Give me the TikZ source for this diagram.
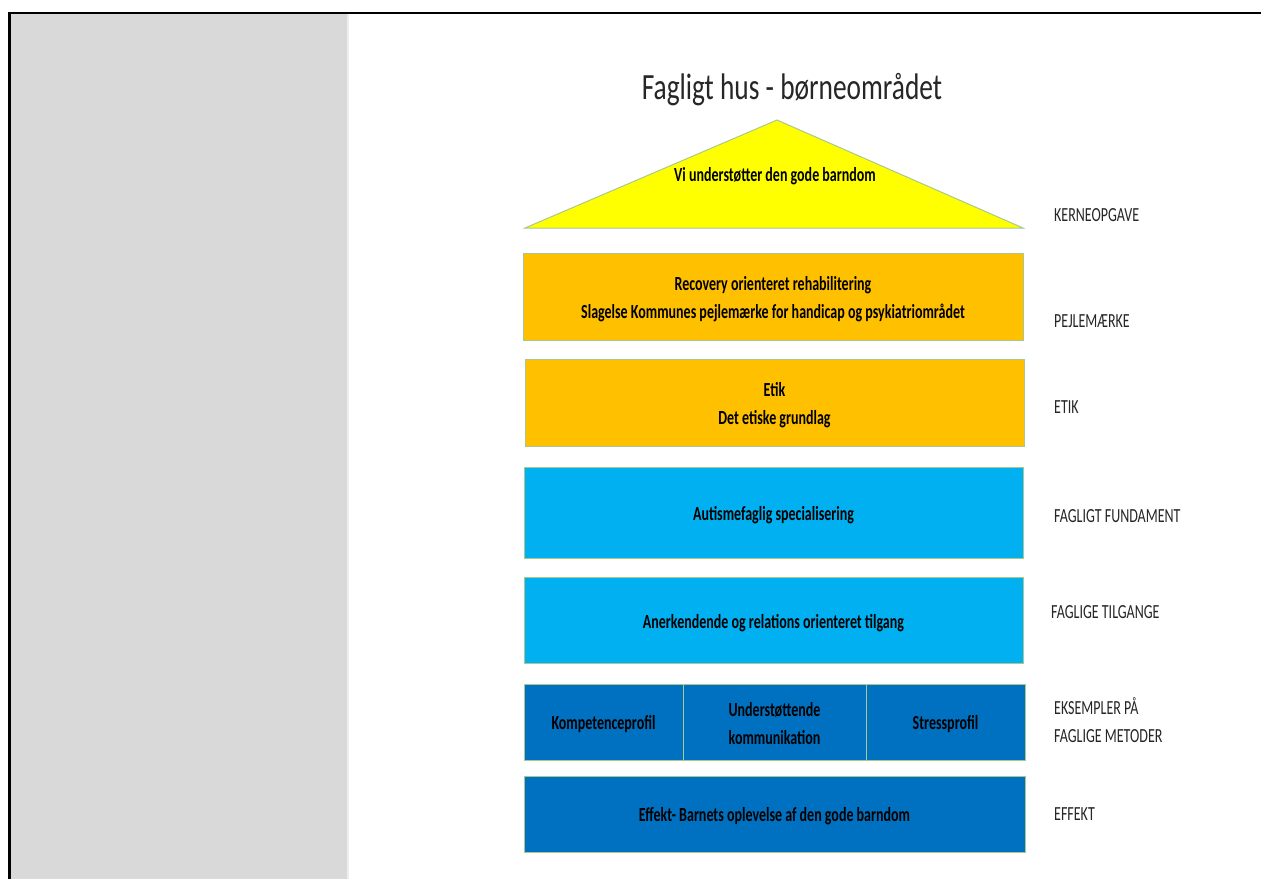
\documentclass[tikz,border=0pt]{standalone}
\usepackage{fontspec}
\newfontfamily\cond[FakeStretch=0.7]{Carlito}
\newfontfamily\condt[FakeStretch=0.74]{Carlito}
\definecolor{panelgrey}{HTML}{D9D9D9}
\definecolor{roofyellow}{HTML}{FFFF00}
\definecolor{orangebox}{HTML}{FFC000}
\definecolor{lightbluebox}{HTML}{00B0F0}
\definecolor{bluebox}{HTML}{0070C0}
\definecolor{edgegreen}{HTML}{A8C890}
\definecolor{labelgrey}{HTML}{262626}
\tikzset{
  layer/.style={draw=edgegreen, line width=1pt, rectangle, inner sep=0pt},
  layertext/.style={align=center, inner sep=0pt,
    font=\cond\bfseries\fontsize{20}{28}\selectfont, text=black},
  sidelabel/.style={anchor=west, align=left, inner sep=0pt, text=labelgrey,
    font=\cond\fontsize{20}{28}\selectfont},
}
\begin{document}
\begin{tikzpicture}[x=1pt,y=-1pt]
\useasboundingbox (0,0) rectangle (1261,879);
\fill[white] (0,0) rectangle (1261,879);
% left grey panel and frame
\fill[panelgrey] (10,14) rectangle (347,879);
\fill[black!7] (347,14) rectangle (349,879);
\draw[line width=2pt] (8,13) -- (1261,13);
\draw[line width=3pt] (9.5,12) -- (9.5,879);
% title
\node[font=\condt\fontsize{37}{42}\selectfont, text=labelgrey] (title) at (792,90) {Fagligt hus - børneområdet};
% roof
\coordinate (roofL) at (525,228);
\coordinate (roofT) at (777,120);
\coordinate (roofR) at (1023,228);
\draw[fill=roofyellow, draw=edgegreen, line width=1pt] (roofL) -- (roofT) -- (roofR) -- cycle;
\node[layertext] (roof) at (775,176) {Vi understøtter den gode barndom};
% layers
\node[layer, fill=orangebox, minimum width=500pt, minimum height=87pt] (pejl) at (773,296.5) {};
\node[layertext] (pejlt) at ([yshift=-3pt]pejl.center)
  {Recovery orienteret rehabilitering\\Slagelse Kommunes pejlemærke for handicap og psykiatriområdet};
\node[layer, fill=orangebox, minimum width=499pt, minimum height=87pt] (etik) at (774.5,402.5) {};
\node[layertext] (etikt) at ([yshift=-3pt]etik.center) {Etik\\Det etiske grundlag};
\node[layer, fill=lightbluebox, minimum width=499pt, minimum height=91pt] (aut) at (773.5,512.5) {};
\node[layertext] (autt) at ([yshift=-3pt]aut.center) {Autismefaglig specialisering};
\node[layer, fill=lightbluebox, minimum width=499pt, minimum height=86pt] (aner) at (773.5,620) {};
\node[layertext] (anert) at ([yshift=-3pt]aner.center) {Anerkendende og relations orienteret tilgang};
\node[layer, fill=bluebox, minimum width=159pt, minimum height=76pt] (komp) at (603.5,722) {};
\node[layertext] (kompt) at ([yshift=-2pt]komp.center) {Kompetenceprofil};
\node[layer, fill=bluebox, minimum width=183pt, minimum height=76pt] (unde) at (774.5,722) {};
\node[layertext] (undet) at ([yshift=-2pt]unde.center) {Understøttende\\kommunikation};
\node[layer, fill=bluebox, minimum width=159pt, minimum height=76pt] (stress) at (945.5,722) {};
\node[layertext] (stresst) at ([yshift=-2pt]stress.center) {Stressprofil};
\node[layer, fill=bluebox, minimum width=501pt, minimum height=76pt] (eff) at (774.5,814) {};
\node[layertext] (efft) at ([yshift=-2pt]eff.center) {Effekt- Barnets oplevelse af den gode barndom};
% side labels
\node[sidelabel] (l1) at (1054,215) {KERNEOPGAVE};
\node[sidelabel] (l2) at (1054,321) {PEJLEMÆRKE};
\node[sidelabel] (l3) at (1054,407) {ETIK};
\node[sidelabel] (l4) at (1054,516) {FAGLIGT FUNDAMENT};
\node[sidelabel] (l5) at (1051,612) {FAGLIGE TILGANGE};
\node[sidelabel] (l6) at (1054,720) {EKSEMPLER PÅ\\FAGLIGE METODER};
\node[sidelabel] (l7) at (1054,814) {EFFEKT};
\end{tikzpicture}
\end{document}
